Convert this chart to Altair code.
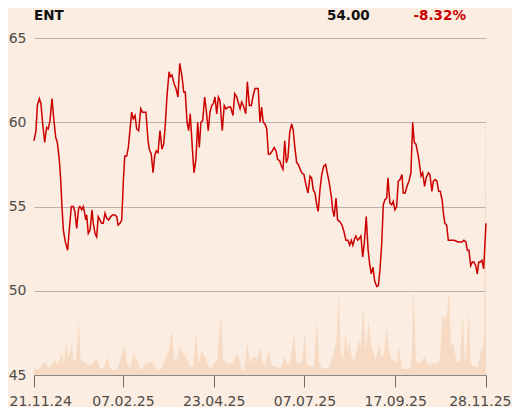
import altair as alt
import pandas as pd

# ---- data ----
ticker = "ENT"
last_price = "54.00"
change_pct = "-8.32%"

price_day = [0.0, 1.1, 1.9, 3.0, 3.9, 4.9, 6.0, 7.1, 8.0, 9.0, 10.1, 11.2, 12.2, 13.1, 14.2, 15.0, 15.7, 16.5,
             17.6, 18.9, 19.8, 21.0, 22.1, 23.0, 24.0, 25.1, 25.8, 26.8, 27.7, 28.3, 29.1, 29.6, 30.5, 31.5,
             32.6, 33.3, 34.3, 35.2, 36.1, 37.1, 38.0, 38.9, 39.9, 40.9, 42.0, 43.1, 44.2, 45.5, 46.5, 47.2,
             48.3, 49.3, 50.2, 51.0, 52.1, 53.0, 53.9, 54.9, 55.8, 56.8, 57.7, 58.8, 60.0, 60.9, 61.8, 62.9,
             64.1, 64.8, 65.9, 66.9, 67.8, 68.7, 69.7, 70.8, 71.9, 72.9, 73.8, 74.7, 75.9, 76.6, 77.5, 78.7,
             79.8, 80.9, 81.9, 83.2, 84.1, 85.0, 86.0, 86.9, 87.8, 88.9, 89.9, 91.0, 92.0, 92.9, 93.8, 94.8,
             95.9, 96.8, 97.9, 98.9, 99.9, 100.8, 101.7, 102.7, 103.6, 104.5, 105.8, 106.9, 107.9, 109.2,
             110.5, 111.8, 112.8, 113.9, 115.0, 115.8, 116.7, 117.6, 119.0, 119.9, 121.0, 122.1, 123.2,
             124.2, 125.1, 126.0, 127.0, 127.9, 128.8, 129.8, 130.8, 131.7, 132.6, 133.9, 135.0, 136.0,
             136.9, 138.1, 139.0, 139.9, 140.9, 141.8, 142.7, 143.7, 144.8, 145.7, 146.7, 147.6, 148.5,
             150.4, 151.7, 152.8, 154.0, 155.1, 156.0, 156.9, 157.9, 158.9, 159.7, 160.7, 161.7, 162.8,
             163.9, 164.8, 165.9, 167.1, 167.8, 168.7, 169.7, 170.6, 171.9, 173.1, 174.2, 175.3, 176.4,
             177.4, 178.3, 179.2, 180.2, 180.9, 181.9, 182.8, 183.7, 184.7, 185.6, 186.7, 187.7, 188.6,
             189.5, 190.5, 191.4, 192.6, 193.5, 194.4, 195.4, 196.3, 197.2, 198.2, 198.9, 200.0, 201.0,
             201.9, 202.8, 203.8, 204.7, 205.7, 206.8, 207.5, 208.6, 209.6, 210.7, 211.8, 212.8, 213.7,
             214.6, 215.6, 216.5, 217.5, 218.4, 219.5, 220.4, 221.6, 222.5, 223.6, 224.4, 225.5, 226.4,
             227.4, 228.3, 229.3, 230.2, 230.9, 231.9, 232.8, 233.8, 234.9, 236.0, 237.1, 238.2, 239.4,
             240.5, 241.6, 242.7, 243.5, 244.4, 245.4, 246.3, 247.2, 248.2, 249.1, 249.9, 250.8, 251.7,
             252.7, 254.0]
price_val = [58.9, 59.5, 61.0, 61.4, 61.1, 59.9, 58.8, 59.7, 59.6, 60.1, 61.4, 60.1, 59.1, 58.8, 57.8, 56.6, 55.0, 53.6,
             52.9, 52.4, 53.6, 55.0, 55.0, 54.7, 53.7, 54.9, 55.0, 54.8, 55.0, 54.7, 54.2, 54.5, 53.4, 53.6,
             54.8, 54.0, 53.4, 53.2, 54.4, 54.2, 54.0, 54.0, 54.6, 54.3, 54.2, 54.4, 54.5, 54.5, 54.4, 53.9,
             54.0, 54.2, 56.5, 58.0, 58.0, 58.5, 59.5, 60.6, 60.2, 60.4, 59.6, 59.5, 60.8, 60.6, 60.6, 60.6,
             58.9, 58.4, 58.1, 57.0, 58.0, 58.3, 58.2, 59.5, 58.4, 58.7, 59.9, 61.5, 63.0, 62.7, 62.8, 62.3,
             62.0, 61.5, 63.5, 62.7, 61.8, 61.8, 60.0, 59.5, 60.5, 58.6, 57.0, 57.8, 60.0, 58.5, 60.0, 60.1,
             61.5, 60.7, 59.5, 60.6, 61.0, 61.1, 61.5, 60.5, 61.5, 61.3, 59.5, 61.0, 60.8, 60.9,
             60.9, 60.4, 61.7, 61.5, 61.1, 60.8, 61.2, 61.0, 60.5, 62.4, 61.0, 61.0, 61.6,
             62.0, 62.0, 62.0, 60.0, 60.9, 60.0, 59.9, 59.6, 58.1, 58.1, 58.3, 58.5, 58.3,
             57.8, 57.7, 57.4, 57.2, 58.9, 57.6, 57.9, 59.4, 59.9, 59.5, 58.4, 57.6, 57.5,
             57.0, 56.9, 56.3, 55.8, 56.8, 56.7, 56.0, 55.8, 55.1, 54.7, 56.0, 56.9, 57.4,
             57.5, 57.0, 56.4, 55.6, 54.8, 54.4, 55.5, 54.2, 54.1, 53.9, 53.5, 53.0, 53.0,
             52.7, 53.0, 52.7, 53.1, 53.25, 53.0, 53.1, 53.25, 52.0, 52.8, 54.4, 52.5, 51.6,
             51.0, 51.4, 50.6, 50.25, 50.3, 51.2, 52.8, 55.1, 55.4, 55.5, 56.7, 55.2, 55.1,
             55.3, 54.8, 55.0, 56.5, 56.6, 56.9, 55.8, 55.8, 56.2, 56.5, 57.0, 60.0, 58.8,
             58.7, 58.2, 57.6, 56.8, 57.0, 56.2, 56.7, 57.0, 56.9, 55.9, 56.5, 56.6, 56.5,
             55.9, 55.9, 55.4, 54.5, 54.0, 53.9, 53.0, 53.0, 53.0, 53.0, 52.95, 52.9, 52.9,
             52.9, 53.0, 52.9, 52.4, 52.4, 51.5, 51.7, 51.7, 51.5, 51.0, 51.7, 51.7, 51.8,
             51.3, 54.0]

vol_day = [0.0, 2.2, 3.9, 6.2, 7.9, 10.1, 11.8, 13.5, 15.6, 16.9, 18.0, 19.3, 20.2, 21.2, 22.3, 23.6, 25.3,
           26.2, 27.5, 29.2, 31.5, 33.2, 35.2, 37.1, 39.3, 41.2, 42.7, 44.4, 46.1, 47.4, 49.3, 50.9, 52.1,
           53.9, 56.2, 57.7, 59.2, 60.5, 62.4, 64.2, 65.6, 67.0, 68.9, 71.8, 74.6, 76.0, 77.4, 78.7, 80.2,
           82.0, 83.9, 85.8, 87.7, 89.5, 91.0, 92.3, 94.2, 96.1, 97.9, 99.8, 101.3, 103.0, 105.1, 106.4,
           108.3, 110.1, 111.8, 113.9, 115.4, 116.7, 118.2, 119.9, 121.4, 122.9, 124.2, 125.5, 127.0,
           128.5, 129.8, 132.0, 133.6, 135.4, 137.3, 139.2, 141.0, 142.3, 143.8, 146.1, 147.6, 149.5,
           150.6, 152.1, 153.2, 155.1, 157.3, 159.0, 160.3, 161.8, 164.1, 165.4, 167.3, 168.7, 170.1,
           171.2, 172.3, 173.8, 175.1, 176.0, 177.2, 178.5, 179.8, 181.3, 182.4, 183.6, 185.0, 186.4,
           188.1, 189.4, 190.7, 192.0, 194.0, 195.4, 196.7, 198.2, 199.5, 201.0, 202.8, 204.0, 205.1,
           206.6, 208.5, 211.3, 212.2, 213.1, 214.6, 215.9, 218.2, 219.7, 221.6, 223.5, 225.3, 227.2,
           228.1, 229.6, 230.9, 232.2, 233.2, 234.3, 235.6, 237.5, 239.4, 240.9, 242.2, 244.3, 245.4,
           247.2, 249.5, 251.0, 252.1, 253.0, 254.0]
vol_val = [2.5, 1.5, 2.5, 4.0, 2.0, 3.0, 4.5, 3.0, 6.5, 3.5, 10.0, 5.0, 7.0, 9.5, 4.0, 4.5, 16.0,
           4.5, 4.0, 3.5, 3.0, 3.5, 5.0, 2.0, 2.0, 5.4, 2.0, 1.5, 1.5, 2.5, 6.0, 8.7, 3.5,
           2.0, 6.4, 4.5, 2.0, 1.5, 3.5, 3.5, 3.9, 3.5, 1.5, 2.0, 5.9, 7.4, 13.9, 4.5, 4.5,
           8.4, 6.4, 5.0, 2.5, 2.5, 12.9, 3.5, 7.2, 5.4, 2.5, 2.0, 3.5, 4.5, 18.0, 4.5,
           3.5, 3.5, 3.5, 6.4, 4.5, 1.5, 1.5, 9.4, 3.5, 5.0, 5.4, 4.5, 8.0,
           3.5, 2.5, 7.2, 3.0, 2.5, 2.0, 2.5, 5.6, 3.0, 3.5, 12.2, 3.5, 3.9,
           3.5, 12.2, 3.5, 2.5, 2.5, 16.3, 3.5, 2.0, 2.0, 2.0, 4.5, 6.9, 10.4,
           24.9, 7.7, 4.5, 13.1, 7.4, 9.9, 5.4, 3.9, 7.4, 10.4, 8.4, 20.1, 7.4,
           16.3, 8.4, 6.9, 4.5, 9.4, 5.0, 7.0, 14.0, 7.4, 4.5, 3.9, 3.5, 9.0,
           2.0, 1.8, 1.8, 4.0, 26.7, 4.5, 3.5, 4.5, 5.4, 3.0, 3.5, 3.5, 3.5,
           4.5, 18.3, 16.0, 18.3, 25.2, 8.4, 9.9, 3.5, 3.9, 18.5, 2.5, 18.8, 3.5,
           2.5, 2.5, 6.9, 7.9, 12.0, 95.5]

tick_days = [0, 50, 101, 152, 203, 254]
tick_labels = ["21.11.24", "07.02.25", "23.04.25", "07.07.25", "17.09.25", "28.11.25"]
y_ticks = [45, 50, 55, 60, 65]

# ---- styling ----
BG = "#FBEDE1"
LINE = "#CC0000"
VOL = "#F7DAC3"
GRID = "#B8B3AE"
TXT = "#4D4A48"
FONT = "DejaVu Sans"

price_df = pd.DataFrame({"day": price_day, "price": price_val})
vol_df = pd.DataFrame({"day": vol_day, "vol": vol_val})

label_expr = "".join(f"datum.value == {d} ? '{l}' : " for d, l in zip(tick_days, tick_labels)) + "''"

x_scale = alt.Scale(domain=[tick_days[0], tick_days[-1]], nice=False, zero=False)
x_axis = alt.Axis(values=tick_days, labelExpr=label_expr, title=None, grid=False,
                  domain=True, domainColor="#8C8A88", ticks=True, tickSize=12,
                  tickColor="#6E6C6A", labelPadding=7, labelFontSize=14,
                  labelColor=TXT, labelFont=FONT, labelFlush=True, labelFlushOffset=25)

vol = alt.Chart(vol_df).mark_area(color=VOL, opacity=1, line=False).encode(
    x=alt.X("day:Q", scale=x_scale, axis=x_axis),
    y=alt.Y("vol:Q", scale=alt.Scale(domain=[0, 100], nice=False), axis=None),
)

line = alt.Chart(price_df).mark_line(color=LINE, strokeWidth=1.5).encode(
    x=alt.X("day:Q", scale=x_scale, axis=x_axis),
    y=alt.Y("price:Q", scale=alt.Scale(domain=[y_ticks[0], y_ticks[-1]], nice=False, zero=False),
            axis=alt.Axis(values=y_ticks, title=None, grid=True, gridColor=GRID, gridWidth=1,
                          domain=False, ticks=False, labelPadding=8, labelFontSize=14,
                          labelColor=TXT, labelFont=FONT)),
)

hdr_style = dict(align="left", baseline="alphabetic", font=FONT, fontSize=13.5, fontWeight="bold")

hdr_ticker = alt.Chart(pd.DataFrame({"t": [ticker]})).mark_text(color="#111111", **hdr_style).encode(
    x=alt.value(0), y=alt.value(-18), text="t:N")

hdr_price = alt.Chart(pd.DataFrame({"t": [last_price]})).mark_text(color="#111111", **hdr_style).encode(
    x=alt.value(293), y=alt.value(-18), text="t:N")

hdr_change = alt.Chart(pd.DataFrame({"t": [change_pct]})).mark_text(color=LINE, **hdr_style).encode(
    x=alt.value(379.5), y=alt.value(-18), text="t:N")

chart = alt.layer(vol, line, hdr_ticker, hdr_price, hdr_change).resolve_scale(
    y="independent"
).properties(
    width=452, height=337,
    background=BG,
    padding={"left": 26, "top": 30, "right": 26, "bottom": 32},
    autosize=alt.AutoSizeParams(type="none"),
).configure_view(stroke=None)

chart.save("out.html", embed_options={"renderer": "svg", "actions": False})
